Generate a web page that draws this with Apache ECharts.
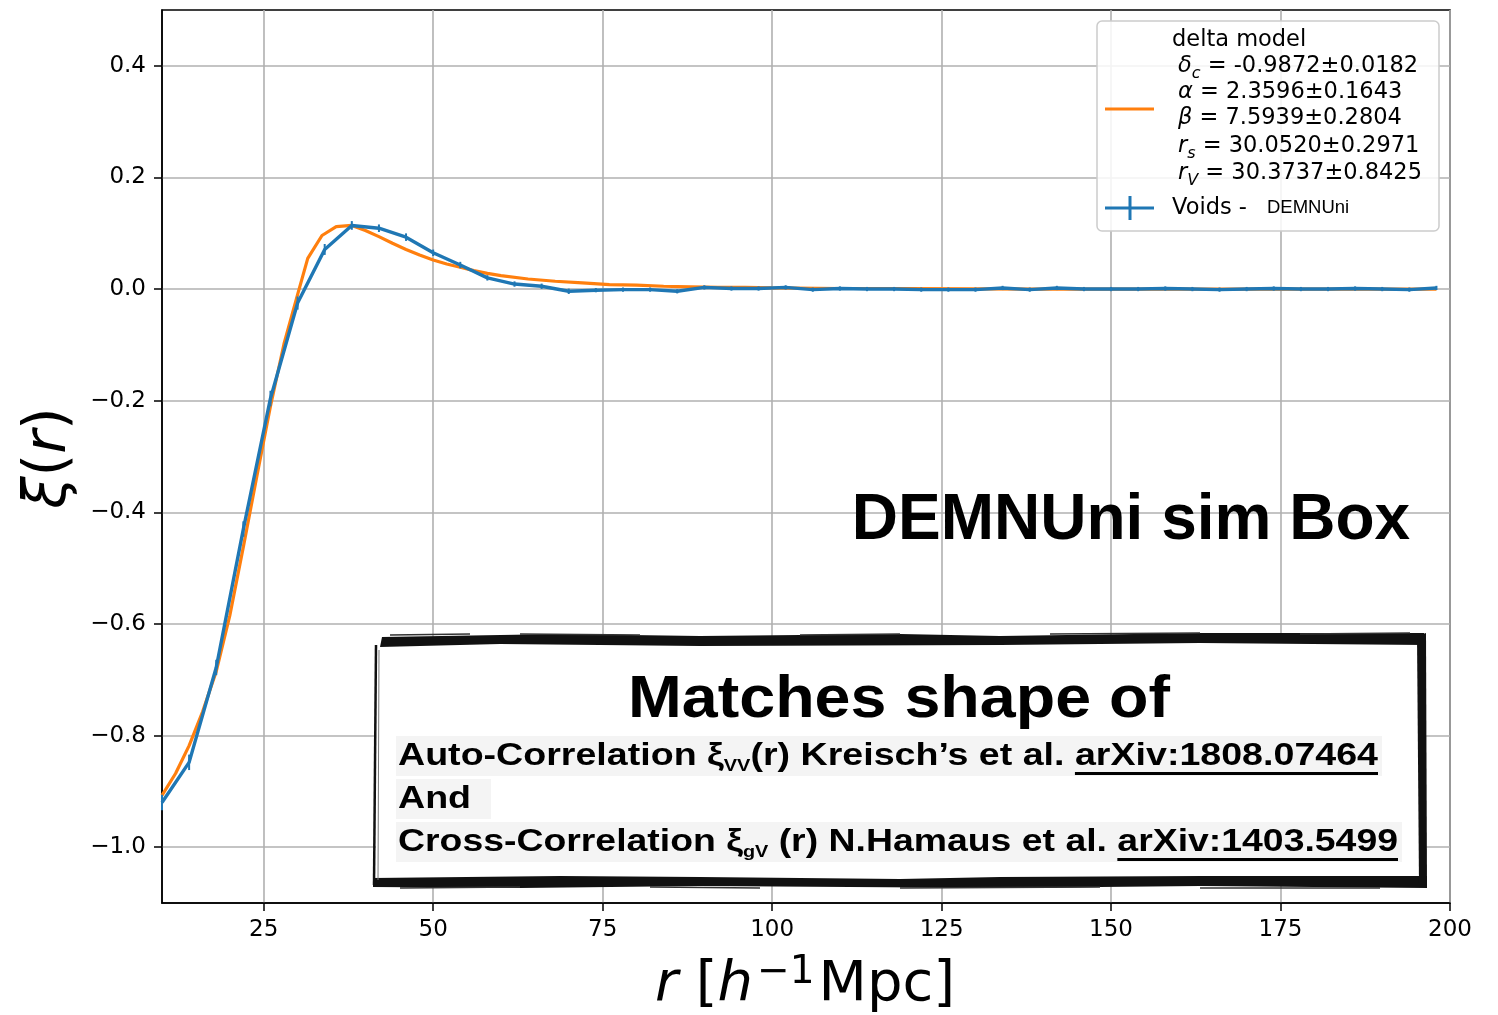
<!DOCTYPE html>
<html><head><meta charset="utf-8">
<script src="https://cdn.jsdelivr.net/npm/echarts@6/dist/echarts.min.js"></script>
<style>html,body{margin:0;padding:0;background:#fff}#c{width:1498px;height:1015px}</style>
</head><body><div id="c"></div>
<script>
// ---- data ----
const voidR = [10,14,18,22,26,30,34,38,42,46,50,54,58,62,66,70,74,78,82,86,90,94,98,102,106,110,114,118,122,126,130,134,138,142,146,150,154,158,162,166,170,174,178,182,186,190,194,198];
const voidXi = [-0.92,-0.848,-0.678,-0.43,-0.196,-0.025,0.071,0.114,0.109,0.093,0.065,0.043,0.020,0.009,0.005,-0.004,-0.002,-0.001,-0.001,-0.004,0.003,0.001,0.001,0.003,-0.001,0.001,0.000,0.000,-0.001,-0.001,-0.001,0.002,-0.001,0.002,0.000,0.000,0.000,0.001,0.000,-0.001,0.000,0.001,0.000,0.000,0.001,0.000,-0.001,0.002];
const voidErr = [0.012,0.012,0.012,0.012,0.012,0.010,0.008,0.006,0.005,0.005,0.004,0.004,0.003,0.003,0.003,0.003,0.002,0.002,0.002,0.002,0.002,0.002,0.002,0.002,0.002,0.002,0.002,0.002,0.002,0.002,0.002,0.002,0.002,0.002,0.002,0.002,0.002,0.002,0.002,0.002,0.002,0.002,0.002,0.002,0.002,0.002,0.002,0.002];
const modelR = [10,12,14,16,18,20,22,24,26,28,30,31.5,33.6,35.7,38,40,42,44,46,48,50,52,54,56,58,60,64,68,72,76,80,84,88,92,96,100,110,120,130,140,160,180,198];
const modelXi = [-0.907,-0.868,-0.818,-0.757,-0.685,-0.585,-0.462,-0.335,-0.21,-0.098,-0.01,0.055,0.096,0.112,0.114,0.105,0.094,0.082,0.071,0.061,0.052,0.045,0.039,0.033,0.028,0.024,0.018,0.014,0.011,0.008,0.007,0.005,0.004,0.003,0.003,0.002,0.001,0.001,0.0005,0.0,0.0,0.0,0.0];
const xTicks = [25,50,75,100,125,150,175,200];
const yTicks = [-1.0,-0.8,-0.6,-0.4,-0.2,0.0,0.2,0.4];
const legendLines = [
  ['δ','c',' = -0.9872±0.0182'],
  ['α','',' = 2.3596±0.1643'],
  ['β','',' = 7.5939±0.2804'],
  ['r','s',' = 30.0520±0.2971'],
  ['r','V',' = 30.3737±0.8425']
];
const titleText = 'DEMNUni sim Box';

// ---- helpers ----
const cv = document.createElement('canvas').getContext('2d');
function tw(t, font){ cv.font = font; return cv.measureText(t).width; }
const BF = '"Liberation Sans", Arial, sans-serif';
const DJ = '"DejaVu Sans", sans-serif';

const chart = echarts.init(document.getElementById('c'), null, {renderer:'canvas'});

const graphics = [];

// legend box
graphics.push({type:'rect', shape:{x:1097,y:21,width:342,height:210,r:5}, style:{fill:'rgba(255,255,255,0.85)', stroke:'#cccccc', lineWidth:1.5}, z:100});
graphics.push({type:'text', x:1172, y:40, style:{text:'delta model', font:'22.5px '+DJ, fill:'#000', textVerticalAlign:'middle'}, z:101});
const legY = [66,92,118,146,173];
const richLeg = {
  i:{fontFamily:DJ, fontStyle:'italic', fontSize:22.5, lineHeight:32, verticalAlign:'middle'},
  s:{fontFamily:DJ, fontStyle:'italic', fontSize:16, lineHeight:16, verticalAlign:'bottom'},
  n:{fontFamily:DJ, fontSize:22.5, lineHeight:32, verticalAlign:'middle'}
};
legendLines.forEach((l,k)=>{
  let t = '{i|'+l[0]+'}' + (l[1]?'{s|'+l[1]+'}':'') + '{n|'+l[2]+'}';
  graphics.push({type:'text', x:1178, y:legY[k], style:{text:t, rich:richLeg, fill:'#000', textVerticalAlign:'middle'}, z:101});
});
graphics.push({type:'line', shape:{x1:1105,y1:109,x2:1154,y2:109}, style:{stroke:'#ff7f0e', lineWidth:3}, z:101});
graphics.push({type:'line', shape:{x1:1105,y1:208,x2:1154,y2:208}, style:{stroke:'#1f77b4', lineWidth:3}, z:101});
graphics.push({type:'line', shape:{x1:1130,y1:196,x2:1130,y2:220}, style:{stroke:'#1f77b4', lineWidth:3}, z:101});
graphics.push({type:'text', x:1172, y:208, style:{text:'Voids -', font:'22.5px '+DJ, fill:'#000', textVerticalAlign:'middle'}, z:101});
graphics.push({type:'text', x:1267, y:208, style:{text:'DEMNUni', font:'18.5px '+BF, fill:'#000', textVerticalAlign:'middle'}, z:101});

// big title
graphics.push({type:'text', x:1131, y:521, style:{text:titleText, font:'bold 64px '+BF, fill:'#000', textAlign:'center', textVerticalAlign:'middle'}, z:50});

// rough box
graphics.push({type:'rect', shape:{x:376,y:640,width:1046,height:242}, style:{fill:'#fff'}, z:40});
const roughPolys = [
  [[382,637],[560,634],[700,636],[900,634],[1000,636],[1200,633],[1424,633],[1425,645],[1200,643],[1000,645],[700,646],[500,644],[380,647]],
  [[373,878],[560,876],[700,877],[900,879],[1000,877],[1200,876],[1427,876],[1427,888],[1200,886],[1000,888],[700,886],[520,888],[373,887]],
  [[1417,636],[1426,633],[1427,888],[1419,886]]
];
roughPolys.forEach(p=>graphics.push({type:'polygon', shape:{points:p}, style:{fill:'#111'}, z:41}));
graphics.push({type:'line', shape:{x1:376,y1:645,x2:374,y2:885}, style:{stroke:'#111', lineWidth:2.5}, z:41});
graphics.push({type:'line', shape:{x1:379,y1:650,x2:378,y2:880}, style:{stroke:'#777', lineWidth:1}, z:41});
[[390,635,470,634],[520,634,640,635],[800,635,900,634],[1050,634,1200,633],[1300,634,1410,633],[400,888,520,887],[650,887,760,888],[900,888,1100,887],[1200,888,1380,888]].forEach(s=>{
  graphics.push({type:'line', shape:{x1:s[0],y1:s[1],x2:s[2],y2:s[3]}, style:{stroke:'#333', lineWidth:1.5}, z:41});
});
// gray backgrounds of lines
graphics.push({type:'rect', shape:{x:396,y:736,width:986,height:40}, style:{fill:'#f4f4f4'}, z:42});
graphics.push({type:'rect', shape:{x:396,y:779,width:95,height:40}, style:{fill:'#f4f4f4'}, z:42});
graphics.push({type:'rect', shape:{x:396,y:822,width:1006,height:40}, style:{fill:'#f4f4f4'}, z:42});

// box texts
const mFont = 'bold 60px '+BF;
const mW = tw('Matches shape of', mFont);
graphics.push({type:'text', x:628, y:700, scaleX:542/mW, style:{text:'Matches shape of', font:mFont, fill:'#000', textVerticalAlign:'middle'}, z:45});

const lf = 'bold 32px '+BF, sf = 'bold 17px '+BF;
const richBox = {
  m:{fontFamily:BF, fontWeight:'bold', fontSize:32, lineHeight:38, verticalAlign:'middle'},
  s:{fontFamily:BF, fontWeight:'bold', fontSize:17, lineHeight:19, verticalAlign:'bottom'}
};
function boxLine(y, pre, sub, mid, link, targetW){
  const wPre = tw(pre, lf), wSub = tw(sub, sf), wMid = tw(mid, lf), wLink = tw(link, lf);
  const total = wPre+wSub+wMid+wLink;
  const sc = targetW/total;
  graphics.push({type:'text', x:398, y:y, scaleX:sc, style:{text:'{m|'+pre+'}'+(sub?'{s|'+sub+'}':'')+'{m|'+mid+link+'}', rich:richBox, fill:'#000', textVerticalAlign:'middle'}, z:45});
  if(link){
    const x0 = 398 + sc*(wPre+wSub+wMid);
    graphics.push({type:'rect', shape:{x:x0, y:y+16, width:sc*wLink, height:3}, style:{fill:'#000'}, z:45});
  }
  return sc;
}
const sc1 = boxLine(756, 'Auto-Correlation ξ', 'VV', '(r) Kreisch’s et al. ', 'arXiv:1808.07464', 980);
graphics.push({type:'text', x:398, y:799, scaleX:sc1, style:{text:'And', font:lf, fill:'#000', textVerticalAlign:'middle'}, z:45});
boxLine(842, 'Cross-Correlation ξ', 'gV', ' (r) N.Hamaus et al. ', 'arXiv:1403.5499', 1000);

// axis titles
graphics.push({type:'text', x:50, y:458, rotation:Math.PI/2, style:{
  text:'{i|ξ}{n|(}{i|r}{n|)}', textAlign:'center', textVerticalAlign:'middle',
  rich:{i:{fontFamily:DJ, fontStyle:'italic', fontSize:58}, n:{fontFamily:DJ, fontSize:58}}, fill:'#000'}, z:10});
graphics.push({type:'text', x:805, y:985, style:{
  text:'{i|r}{n| [}{i|h}{p|−1}{n|Mpc]}', textAlign:'center', textVerticalAlign:'middle',
  rich:{i:{fontFamily:DJ, fontStyle:'italic', fontSize:56, lineHeight:64, verticalAlign:'middle'},
        n:{fontFamily:DJ, fontSize:56, lineHeight:64, verticalAlign:'middle'},
        p:{fontFamily:DJ, fontSize:39, lineHeight:38, verticalAlign:'top', padding:[0,4,0,4]}}, fill:'#000'}, z:10});

const option = {
  animation:false,
  backgroundColor:'#fff',
  grid:{left:162, right:48, top:10, bottom:112, show:true, borderColor:'#000', borderWidth:1.5, backgroundColor:'transparent'},
  xAxis:{type:'value', min:10, max:200,
    axisLine:{show:true, onZero:false, lineStyle:{color:'#000', width:1.5}},
    axisTick:{show:true, customValues:xTicks, length:8, lineStyle:{color:'#000', width:1.5}},
    axisLabel:{customValues:xTicks, fontSize:23, fontFamily:DJ, color:'#000', margin:16},
    splitLine:{show:true, lineStyle:{color:'#b0b0b0', width:1.6}}},
  yAxis:{type:'value', min:-1.1, max:0.5,
    axisLine:{show:true, onZero:false, lineStyle:{color:'#000', width:1.5}},
    axisTick:{show:true, customValues:yTicks, length:8, lineStyle:{color:'#000', width:1.5}},
    axisLabel:{customValues:yTicks, fontSize:23, fontFamily:DJ, color:'#000', margin:16,
      formatter:v=>(v<-1e-9?'−':'')+Math.abs(v).toFixed(1)},
    splitLine:{show:true, lineStyle:{color:'#b0b0b0', width:1.6}}},
  series:[
    {type:'line', data:modelR.map((r,i)=>[r,modelXi[i]]), showSymbol:false, lineStyle:{color:'#ff7f0e', width:3.2}, itemStyle:{color:'#ff7f0e'}, z:2},
    {type:'line', data:voidR.map((r,i)=>[r,voidXi[i]]), showSymbol:false, lineStyle:{color:'#1f77b4', width:3.4}, itemStyle:{color:'#1f77b4'}, z:3},
    {type:'custom', data:voidR.map((r,i)=>[r,voidXi[i],voidErr[i]]), z:4,
      renderItem:(params, api)=>{
        const x=api.value(0), y=api.value(1), e=api.value(2);
        const a=api.coord([x,y-e]), b=api.coord([x,y+e]);
        return {type:'line', shape:{x1:a[0],y1:a[1]+1,x2:b[0],y2:b[1]-1}, style:{stroke:'#1f77b4', lineWidth:2}};
      }}
  ],
  graphic:graphics
};
chart.setOption(option);
</script>
</body></html>
